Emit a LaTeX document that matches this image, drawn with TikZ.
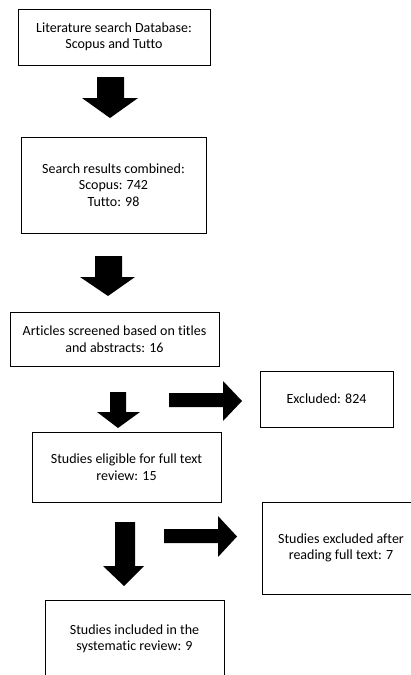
\documentclass[tikz,border=0pt]{standalone}
\usepackage{fontspec}
\setmainfont{Carlito}[Ligatures=NoCommon]
\begin{document}
\begin{tikzpicture}[x=1pt,y=-1pt,
  box/.style={draw=black,line width=1pt,inner sep=0pt,align=center,
    font=\fontsize{14}{16.5}\selectfont},
  blockarrow/.style={fill=black}]
\useasboundingbox (0,0) rectangle (411,675);
\clip (0,0) rectangle (411,675);
\node[box,minimum width=192pt,minimum height=56pt] (b1) at (114,37)
  {Literature search Database:\\Scopus and Tutto};
\node[box,minimum width=185pt,minimum height=96pt] (b2) at (113.5,185)
  {Search results combined:\\Scopus: 742\\Tutto: 98};
\node[box,minimum width=209pt,minimum height=54pt] (b3) at (114.5,339)
  {Articles screened based on titles\\and abstracts: 16};
\node[box,minimum width=133pt,minimum height=56pt] (ex1) at (326.5,399)
  {Excluded: 824};
\node[box,minimum width=189pt,minimum height=70pt] (b4) at (126.5,467)
  {Studies eligible for full text\\review: 15};
\node[box,minimum width=158pt,minimum height=92pt] (ex2) at (341,548)
  {Studies excluded after\\reading full text: 7};
\node[box,minimum width=179pt,minimum height=78pt] (b5) at (134.5,639)
  {Studies included in the\\systematic review: 9};
% down arrows
\fill[blockarrow] (97,77) -- (124,77) -- (124,98) -- (138,98) -- (110,118) -- (82,98) -- (97,98) -- cycle;
\fill[blockarrow] (95,256) -- (122,256) -- (122,277) -- (135,277) -- (108,296) -- (80,277) -- (95,277) -- cycle;
\fill[blockarrow] (110,392) -- (126,392) -- (126,412) -- (140,412) -- (118,428) -- (97,412) -- (110,412) -- cycle;
\fill[blockarrow] (115,522) -- (135,522) -- (135,566) -- (144,566) -- (124,586) -- (103,566) -- (115,566) -- cycle;
% right arrows
\fill[blockarrow] (169,393) -- (223,393) -- (223,381) -- (242,401) -- (223,421) -- (223,407) -- (169,407) -- cycle;
\fill[blockarrow] (164,529) -- (218,529) -- (218,516) -- (237,536.5) -- (218,557) -- (218,543) -- (164,543) -- cycle;
\end{tikzpicture}
\end{document}
